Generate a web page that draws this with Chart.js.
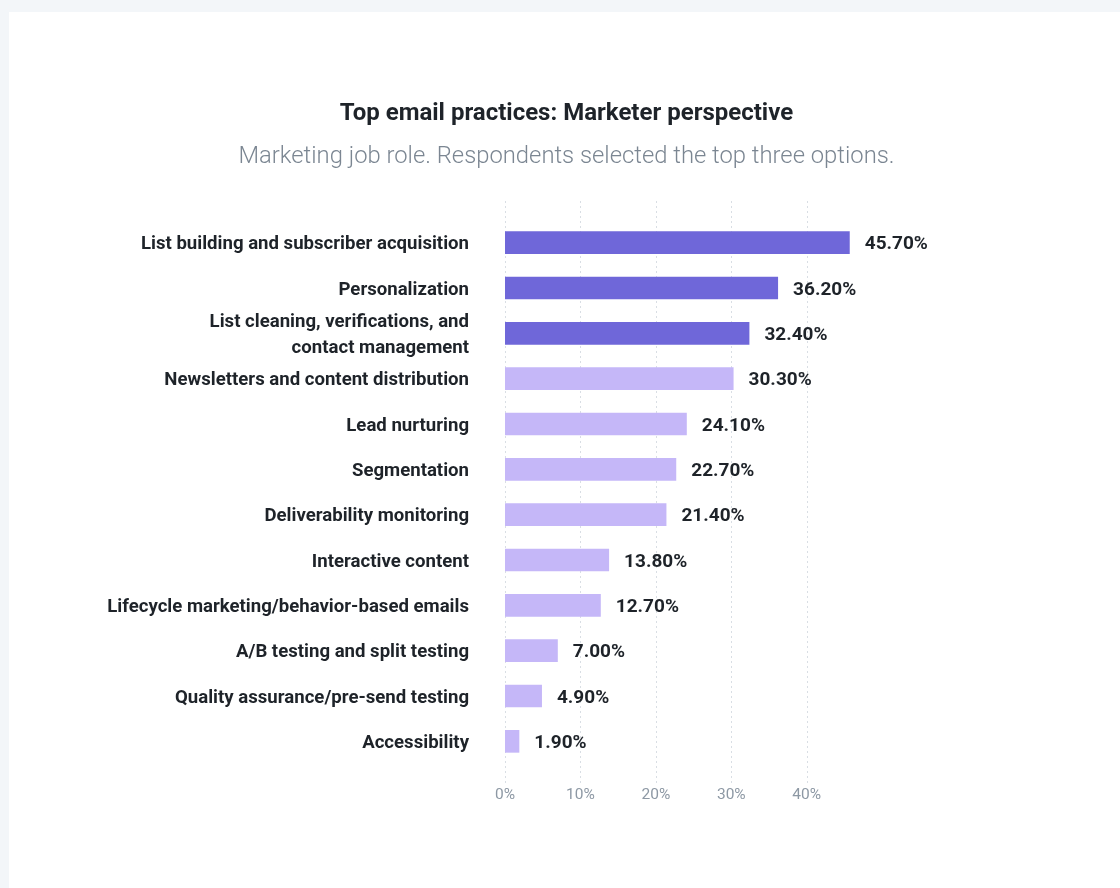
<!DOCTYPE html>
<html>
<head>
<meta charset="utf-8">
<title>Top email practices</title>
<script src="https://cdn.jsdelivr.net/npm/chart.js@4.4.1/dist/chart.umd.min.js"></script>
<style>
    html, body { margin: 0; padding: 0; background: #f3f6f9; }
    .card {
        position: absolute;
        left: 9px; top: 12px;
        width: 1111px; height: 876px;
        background: #ffffff;
        font-family: Roboto, "Noto Sans", sans-serif;
    }
    .card h1, .card p {
        position: absolute;
        left: 4px; right: 0;
        margin: 0;
        text-align: center;
        line-height: 28px;
    }
    .card h1 { top: 86px; font-size: 24px; font-weight: 700; color: #1e2329; }
    .card p  { top: 129px; font-size: 23.8px; font-weight: 300; color: #7b8692; }
    #practicesChart { position: absolute; left: 0; top: 0; display: block; }
</style>
</head>
<body>
<div class="card">
    <canvas id="practicesChart" width="1111" height="876"></canvas>
    <h1>Top email practices: Marketer perspective</h1>
    <p>Marketing job role. Respondents selected the top three options.</p>
</div>
<script>
// ------------------------------------------
// Data
// ------------------------------------------
const practices = [
    "List building and subscriber acquisition",
    "Personalization",
    ["List cleaning, verifications, and", "contact management"],
    "Newsletters and content distribution",
    "Lead nurturing",
    "Segmentation",
    "Deliverability monitoring",
    "Interactive content",
    "Lifecycle marketing/behavior-based emails",
    "A/B testing and split testing",
    "Quality assurance/pre-send testing",
    "Accessibility"
];
const shares = [45.7, 36.2, 32.4, 30.3, 24.1, 22.7, 21.4, 13.8, 12.7, 7.0, 4.9, 1.9];
const topCount = 3; // first three rows are highlighted
const axisTicks = [0, 10, 20, 30, 40];

const DARK = "#6f67d9";
const LIGHT = "#c5b7f8";
const TEXT = "#1e2329";
const MUTED = "#8d98a4";
const FONT = "Roboto, 'Noto Sans', sans-serif";

// ------------------------------------------
// Dotted vertical grid, a bit taller than the plot
// ------------------------------------------
const dottedGrid = {
    id: "dottedGrid",
    beforeDatasetsDraw(chart) {
        const { ctx, chartArea, scales } = chart;
        ctx.save();
        ctx.strokeStyle = "#d9dee4";
        ctx.lineWidth = 1;
        ctx.setLineDash([2, 3]);
        axisTicks.forEach(t => {
            const x = Math.round(scales.x.getPixelForValue(t)) + 0.5;
            ctx.beginPath();
            ctx.moveTo(x, chartArea.top - 19);
            ctx.lineTo(x, chartArea.bottom + 19);
            ctx.stroke();
        });
        ctx.restore();
    }
};

// ------------------------------------------
// Percent labels at the end of each bar
// ------------------------------------------
const valueLabels = {
    id: "valueLabels",
    afterDatasetsDraw(chart) {
        const { ctx } = chart;
        const meta = chart.getDatasetMeta(0);
        ctx.save();
        ctx.font = "bold 19px " + FONT;
        ctx.fillStyle = TEXT;
        ctx.textAlign = "left";
        ctx.textBaseline = "middle";
        meta.data.forEach((bar, i) => {
            ctx.fillText(shares[i].toFixed(2) + "%", bar.x + 15, bar.y + 2);
        });
        ctx.restore();
    }
};

new Chart(document.getElementById("practicesChart"), {
    type: "bar",
    data: {
        labels: practices,
        datasets: [{
            data: shares,
            backgroundColor: shares.map((_, i) => i < topCount ? DARK : LIGHT),
            borderWidth: 0,
            categoryPercentage: 1,
            barPercentage: 0.5
        }]
    },
    options: {
        indexAxis: "y",
        responsive: false,
        animation: false,
        layout: { padding: { left: 0, right: 268, top: 208, bottom: 85 } },
        plugins: {
            legend: { display: false },
            tooltip: { enabled: false }
        },
        scales: {
            x: {
                min: 0,
                max: 46,
                grid: { display: false, drawTicks: false },
                border: { display: false },
                afterFit: scale => { scale.height = 39; },
                ticks: {
                    stepSize: 10,
                    includeBounds: false,
                    autoSkip: false,
                    maxRotation: 0,
                    padding: 22,
                    color: MUTED,
                    font: { family: FONT, size: 15.5 },
                    callback: v => v + "%"
                }
            },
            y: {
                grid: { display: false, drawTicks: false },
                border: { display: false },
                afterFit: scale => { scale.width = 496; },
                ticks: {
                    autoSkip: false,
                    padding: 36,
                    labelOffset: 2,
                    color: TEXT,
                    font: { family: FONT, size: 18.6, weight: "bold", lineHeight: 1.4 }
                }
            }
        }
    },
    plugins: [dottedGrid, valueLabels]
});
</script>
</body>
</html>
